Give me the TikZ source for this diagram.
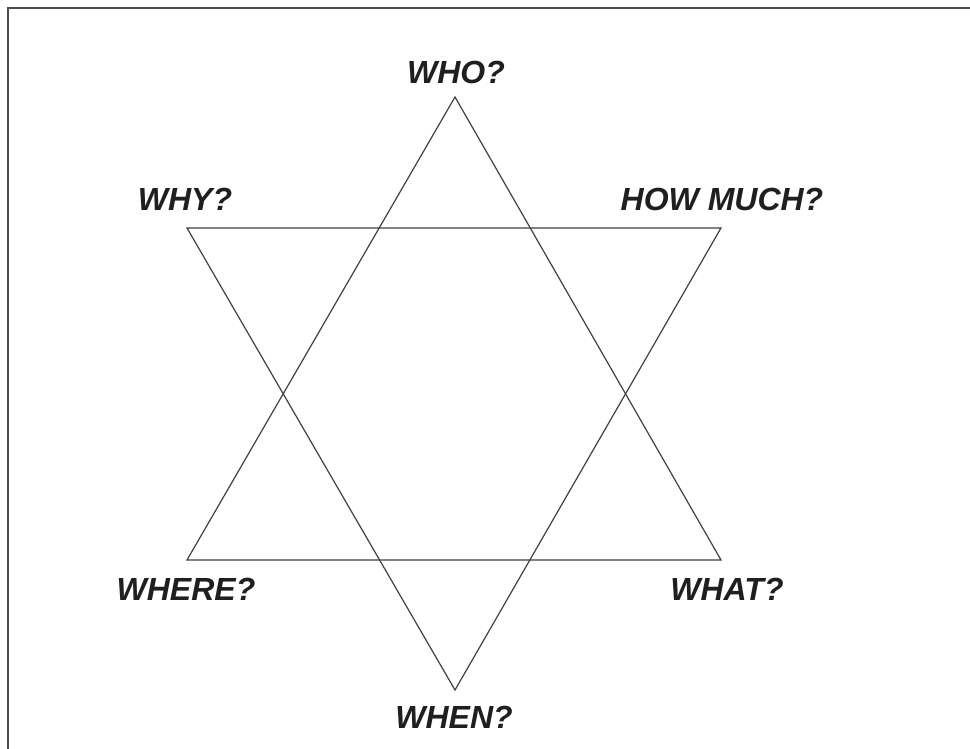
\documentclass[tikz,border=0pt]{standalone}
\usepackage{fontspec}
\setmainfont{Liberation Sans}
\usepackage{tikz}
\usepackage{xcolor}

\tikzset{
 qlabel/.style={font=\fontsize{16}{19}\selectfont\bfseries\itshape, text=black!88, inner sep=0pt},
 starline/.style={black!75, line width=0.6pt, line join=miter}
}

\begin{document}
\begin{tikzpicture}[x=0.5pt,y=-0.5pt]
 \useasboundingbox (0,0) rectangle (970,749);
 % frame, only top and left edges show
 \draw[black!70, line width=1.1pt] (8,749) -- (8,8) -- (970,8);
 \begin{scope}
  % vertices of the two triangles
  \coordinate (up) at (455,97);
  \coordinate (upl) at (187,560);
  \coordinate (upr) at (721,560);
  \coordinate (dn) at (455,690);
  \coordinate (dnl) at (187,228);
  \coordinate (dnr) at (721,228);
  \draw[starline] (up) -- (upr) -- (upl) -- cycle;
  \draw[starline] (dn) -- (dnl) -- (dnr) -- cycle;
 \end{scope}
 \node[qlabel] (who) at (456,72) {WHO?};
 \node[qlabel] (why) at (185,199) {WHY?};
 \node[qlabel] (howmuch) at (722,199) {HOW MUCH?};
 \node[qlabel] (where) at (186,589) {WHERE?};
 \node[qlabel] (what) at (727,589) {WHAT?};
 \node[qlabel] (when) at (454,717) {WHEN?};
\end{tikzpicture}
\end{document}
